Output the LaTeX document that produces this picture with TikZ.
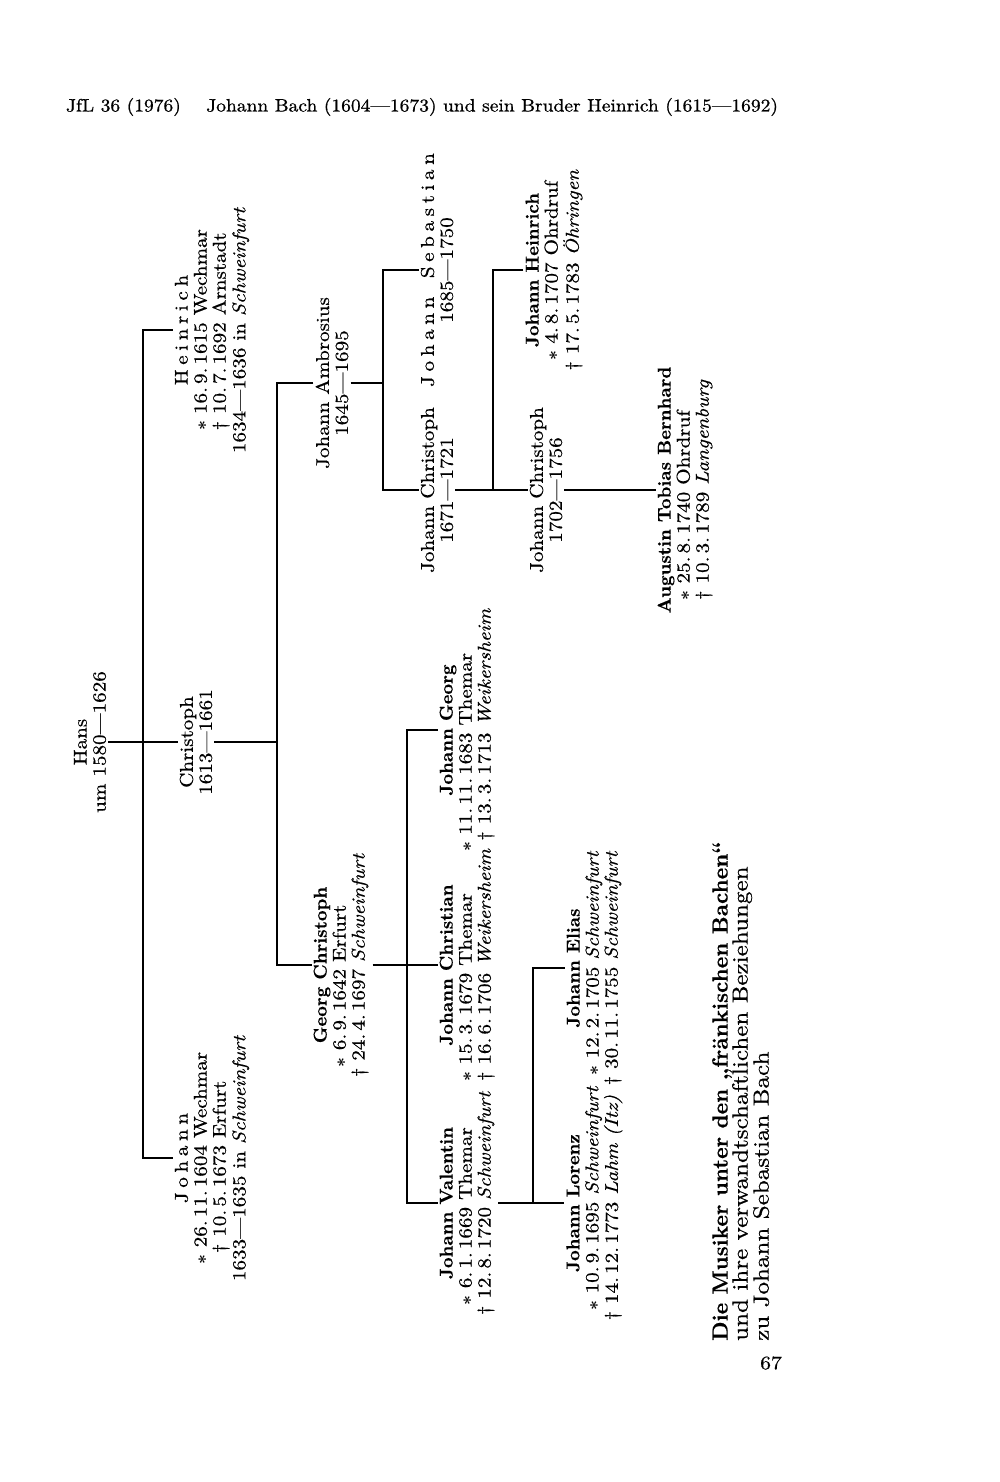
\documentclass[tikz,border=0pt]{standalone}
\usepackage{fontspec}
\setmainfont{lmroman10-regular.otf}[ItalicFont=lmroman10-italic.otf,BoldFont=lmroman10-bold.otf,FakeStretch=1.14,FakeBold=0.6]
\newfontfamily\boldnames{lmroman10-bold.otf}[FakeBold=0.4]
\newfontfamily\hdrfont{lmroman10-regular.otf}[FakeBold=0.8]
\usepackage{graphicx}
\newcommand\ls{\hspace{0.25em}}
\newcommand\born{$\boldsymbol{\ast}$}
\newcommand\died{\textdagger}
\newcommand\nm[1]{{\boldnames #1}}
\newcommand\datatab[1]{\begin{tabular}[t]{@{}r@{\ }l@{}}#1\end{tabular}}
\usepackage{amsmath,bm}
\renewcommand\born{$\bm{\ast}$}
\begin{document}
\begin{tikzpicture}[x=1pt,y=-1pt,
  person/.style={rotate=90,align=center,inner sep=2pt,font=\fontsize{18.5}{19}\selectfont},
  bar/.style={line width=2.6pt}]
\fill[white] (0,0) rectangle (1000,1482);
\useasboundingbox (0,0) rectangle (1000,1482);

\node (header) at (422,107) {\resizebox{712pt}{13.5pt}{\hdrfont JfL 36 (1976)\hspace{1.3em}Johann Bach (1604—1673) und sein Bruder Heinrich (1615—1692)}};
\node (pnum) at (771,1363) {\fontsize{19}{20}\selectfont 67};

\node[person] (hans) at (90,742) {Hans\\um 1580—1626};
\node[person] (christoph) at (196,742) {Christoph\\1613—1661};
\node[person] (heinrich) at (212,330) {H\ls e\ls i\ls n\ls r\ls i\ls c\ls h\\\datatab{\born{} 16.\,9.\,1615 & Wechmar\\\died{} 10.\,7.\,1692 & Arnstadt}\\1634—1636 in \emph{Schweinfurt}};
\node[person] (johann) at (212,1158) {J\ls o\ls h\ls a\ls n\ls n\\\datatab{\born{} 26.\,11.\,1604 & Wechmar\\\died{} 10.\,5.\,1673 & Erfurt}\\1633—1635 in \emph{Schweinfurt}};
\node[person] (georgc) at (342,965) {\nm{Georg Christoph}\\\datatab{\born{} 6.\,9.\,1642 & Erfurt\\\died{} 24.\,4.\,1697 & \emph{Schweinfurt}}};
\node[person] (ambrosius) at (332,383) {Johann Ambrosius\\1645—1695};
\node[person] (jgeorg) at (468,730) {\nm{Johann Georg}\\\datatab{\born{} 11.\,11.\,1683 & Themar\\\died{} 13.\,3.\,1713 & \emph{Weikersheim}}};
\node[person] (jchristian) at (468,965) {\nm{Johann Christian}\\\datatab{\born{} 15.\,3.\,1679 & Themar\\\died{} 16.\,6.\,1706 & \emph{Weikersheim}}};
\node[person] (jvalentin) at (468,1203) {\nm{Johann Valentin}\\\datatab{\born{} 6.\,1.\,1669 & Themar\\\died{} 12.\,8.\,1720 & \emph{Schweinfurt}}};
\node[person] (jlorenz) at (595,1203) {\nm{Johann Lorenz}\\\datatab{\born{} 10.\,9.\,1695 & \emph{Schweinfurt}\\\died{} 14.\,12.\,1773 & \emph{Lahm (Itz)}}};
\node[person] (jelias) at (595,968) {\nm{Johann Elias}\\\datatab{\born{} 12.\,2.\,1705 & \emph{Schweinfurt}\\\died{} 30.\,11.\,1755 & \emph{Schweinfurt}}};
\node[person] (jsebastian) at (437,270) {J\ls o\ls h\ls a\ls n\ls n\quad S\ls e\ls b\ls a\ls s\ls t\ls i\ls a\ls n\\1685—1750};
\node[person] (jchristoph1) at (437,490) {Johann Christoph\\1671—1721};
\node[person] (jheinrich) at (555,270) {\nm{Johann Heinrich}\\\datatab{\born{} 4.\,8.\,1707 & Ohrdruf\\\died{} 17.\,5.\,1783 & \emph{Öhringen}}};
\node[person] (jchristoph2) at (546,490) {Johann Christoph\\1702—1756};
\node[person] (augustin) at (686,490) {\nm{Augustin Tobias Bernhard}\\\datatab{\born{} 25.\,8.\,1740 & Ohrdruf\\\died{} 10.\,3.\,1789 & \emph{Langenburg}}};

\node[rotate=90,anchor=north west,inner sep=0pt,align=left,font=\fontsize{22}{20}\selectfont] (caption) at (712,1341) {\nm{Die Musiker unter den „fränkischen Bachen“}\\und ihre verwandtschaftlichen Beziehungen\\zu Johann Sebastian Bach};

\coordinate (x1) at (143,742);
\coordinate (x2) at (277,742);
\coordinate (x3) at (407,965);
\coordinate (x4) at (533,1100);
\coordinate (x5) at (383,383);
\coordinate (x6) at (493,490);

\draw[bar] (hans.south) -- (hans.south -| christoph.north);
\draw[bar] (heinrich.north) -| (x1) |- (johann.north);
\draw[bar] (christoph.south) -- (christoph.south -| x2);
\draw[bar] (ambrosius.north) -| (x2) |- (georgc.north);
\draw[bar] (georgc.south) -- (georgc.south -| jchristian.north);
\draw[bar] (jgeorg.north) -| (x3) |- (jvalentin.north);
\draw[bar] (jvalentin.south) -- (jvalentin.south -| jlorenz.north);
\draw[bar] (jelias.north) -| (x4) |- (jlorenz.north);
\draw[bar] (ambrosius.south) -- (ambrosius.south -| x5);
\draw[bar] (jsebastian.north) -| (x5) |- (jchristoph1.north);
\draw[bar] (jchristoph1.south) -- (jchristoph1.south -| jchristoph2.north);
\draw[bar] (jheinrich.north) -| (x6);
\draw[bar] (jchristoph2.south) -- (jchristoph2.south -| augustin.north);
\end{tikzpicture}
\end{document}
